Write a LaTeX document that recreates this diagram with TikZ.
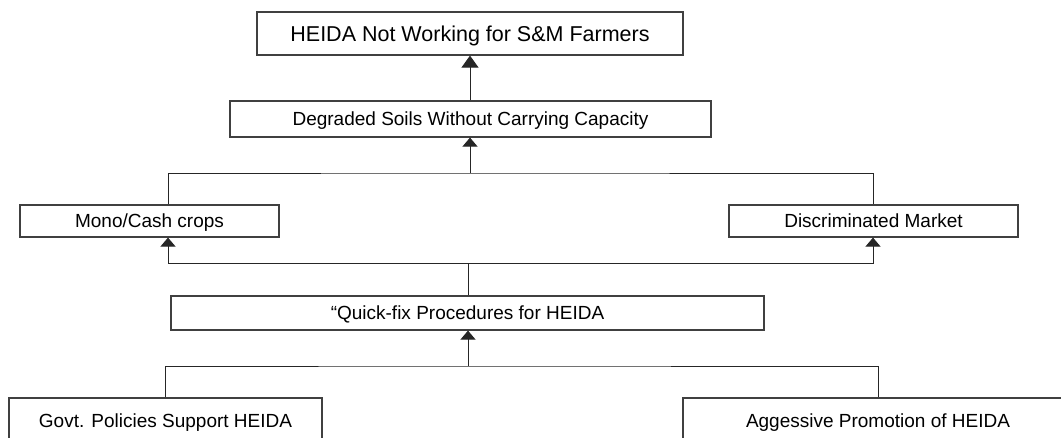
\documentclass[tikz,border=0pt]{standalone}
\usepackage{fontspec}
\setmainfont{Liberation Sans}
\usetikzlibrary{arrows.meta}
\tikzset{
  box/.style={draw=black!75, line width=1.2pt, fill=white, inner sep=0pt, align=center,
    font=\fontsize{19}{22}\selectfont, text height=13.6pt, text depth=0pt},
  conn/.style={draw=black!85, line width=1pt},
  arr/.style={conn, -{Triangle[length=9pt,width=15pt]}},
  bigarr/.style={conn, -{Triangle[length=12pt,width=17pt]}}
}
\begin{document}
\begin{tikzpicture}[x=1pt,y=-1pt]
\useasboundingbox (0,0) rectangle (1061,437);
\clip (0,0) rectangle (1061,437);
% nodes
\node[box, minimum width=426pt, minimum height=43pt, font=\fontsize{21.5}{24}\selectfont, text height=15.4pt] (top) at (470,33.5) {HEIDA Not Working for S\&M Farmers};
\node[box, minimum width=481pt, minimum height=36pt] (deg) at (470.5,119) {Degraded Soils Without Carrying Capacity};
\node[box, minimum width=259pt, minimum height=32pt] (mono) at (149.5,221) {Mono/Cash crops};
\node[box, minimum width=289pt, minimum height=32pt] (disc) at (873.5,221) {Discriminated Market};
\node[box, minimum width=593pt, minimum height=34pt] (quick) at (467.5,313) {“Quick-fix Procedures for HEIDA};
\node[box, minimum width=313pt, minimum height=46pt] (govt) at (165.5,421) {Govt. Policies Support HEIDA};
\node[box, minimum width=390pt, minimum height=46pt] (aggr) at (878,421) {Aggessive Promotion of HEIDA};
% junction coordinates
\coordinate (a1) at (470,173);
\coordinate (a2) at (468,263);
\coordinate (a3) at (468,366);
\coordinate (cL1) at (168,0);
\coordinate (cR1) at (873,0);
\coordinate (cL2) at (165,0);
\coordinate (cR2) at (878,0);
% connectors
\draw[bigarr] (deg.north -| a1) -- (top.south -| a1);
\draw[conn] (mono.north -| cL1) |- (a1) -| (disc.north -| cR1);
\draw[arr] (a1) -- (deg.south -| a1);
\draw[conn] (quick.north -| a2) -- (a2);
\draw[arr] (a2) -| (mono.south -| cL1);
\draw[arr] (a2) -| (disc.south -| cR1);
\draw[conn] (govt.north -| cL2) |- (a3) -| (aggr.north -| cR2);
\draw[arr] (a3) -- (quick.south -| a3);
\end{tikzpicture}
\end{document}
